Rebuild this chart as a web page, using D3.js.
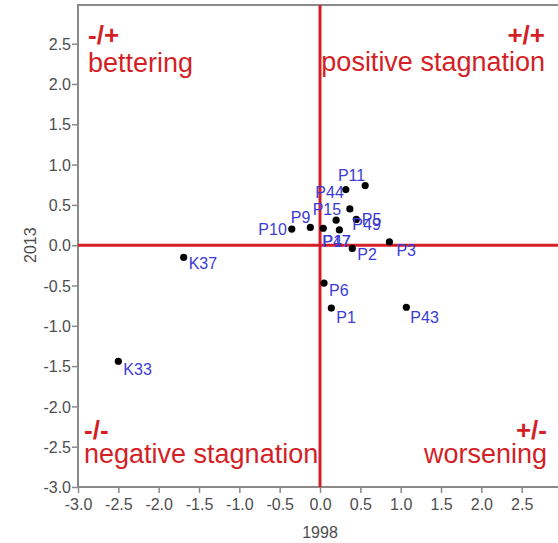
<!DOCTYPE html>
<html><head><meta charset="utf-8">
<script src="https://cdn.jsdelivr.net/npm/d3@7"></script>
<style>
html,body{margin:0;padding:0;background:#fff;}
svg{display:block;font-family:"Liberation Sans",Arial,sans-serif;}
</style></head>
<body>
<svg id="chart" width="558" height="543"></svg>
<script>
const names = ["K33","K37","P10","P9","P17","P15","P47","P44","P11","P5","P49","P2","P3","P6","P1","P43"];
const x1998 = [-2.50,-1.69,-0.35,-0.12,0.04,0.20,0.24,0.32,0.56,0.37,0.45,0.40,0.86,0.05,0.14,1.07];
const y2013 = [-1.44,-0.15,0.20,0.22,0.21,0.31,0.19,0.69,0.74,0.45,0.32,-0.04,0.04,-0.47,-0.78,-0.77];
const xTicks = [-3.0,-2.5,-2.0,-1.5,-1.0,-0.5,0.0,0.5,1.0,1.5,2.0,2.5];
const yTicks = [-3.0,-2.5,-2.0,-1.5,-1.0,-0.5,0.0,0.5,1.0,1.5,2.0,2.5];
const quadrantSigns = ["-/+","+/+","-/-","+/-"];
const quadrantNames = ["bettering","positive stagnation","negative stagnation","worsening"];
// label placement (pixel offsets from point, anchor)
const labelOffsets = {
  K33:[5,14,"start"], K37:[5,12,"start"], P10:[-5,6,"end"], P9:[0,-4,"end"],
  P17:[-1,19,"start"], P15:[5,-5,"end"], P47:[-17,17,"start"], P44:[-2,8,"end"],
  P11:[0,-5,"end"], P5:[12,16,"start"], P49:[-4,11,"start"], P2:[5,12,"start"],
  P3:[7,14,"start"], P6:[5,13,"start"], P1:[5,15,"start"], P43:[4,16,"start"]
};

const svg = d3.select("#chart");
const x = d3.scaleLinear().domain([-3, 2.95]).range([78, 558]);
const y = d3.scaleLinear().domain([-3, 2.98]).range([487, 5]);
const gray = "#8a8a8a", red = "#d41f26", textGray = "#4d4d4d";

// frame
svg.append("path").attr("d", `M${x(2.95)},${y(2.98)}H${x(-3)}V${y(-3)}H${x(2.95)}`)
  .attr("fill","none").attr("stroke",gray).attr("stroke-width",2);

// axes
const fmt = d => d3.format(".1f")(d).replace("\u2212","-");
const xAxis = svg.append("g").attr("transform",`translate(0,${y(-3)})`)
  .call(d3.axisBottom(x).tickValues(xTicks).tickFormat(fmt).tickSize(6).tickSizeOuter(0));
const yAxis = svg.append("g").attr("transform",`translate(${x(-3)},0)`)
  .call(d3.axisLeft(y).tickValues(yTicks).tickFormat(fmt).tickSize(6).tickSizeOuter(0));
[xAxis,yAxis].forEach(g=>{
  g.select(".domain").remove();
  g.selectAll(".tick line").attr("stroke",gray).attr("stroke-width",1.5);
  g.selectAll(".tick text").attr("fill",textGray).style("font-size","16px").style("font-family","Liberation Sans, Arial, sans-serif");
});
xAxis.selectAll(".tick text").attr("dy","0.9em");
yAxis.selectAll(".tick text").attr("x",-7).attr("dy","0.35em");

// axis titles
svg.append("text").attr("x", x(0)).attr("y", 538).attr("text-anchor","middle")
  .attr("fill",textGray).style("font-size","16px").text("1998");
svg.append("text").attr("transform",`translate(36,${y(0)}) rotate(-90)`).attr("text-anchor","middle")
  .attr("fill",textGray).style("font-size","16px").text("2013");

// red quadrant lines
svg.append("line").attr("x1",x(-3)).attr("x2",x(2.95)).attr("y1",y(0)).attr("y2",y(0))
  .attr("stroke",red).attr("stroke-width",3);
svg.append("line").attr("x1",x(0)).attr("x2",x(0)).attr("y1",y(2.98)).attr("y2",y(-3))
  .attr("stroke",red).attr("stroke-width",3);

// quadrant annotations
const qpos = [
  {x:88, anchor:"start", sy:44, ny:72},
  {x:545, anchor:"end", sy:44, ny:71},
  {x:84, anchor:"start", sy:439, ny:463},
  {x:547, anchor:"end", sy:439, ny:463}
];
quadrantSigns.forEach((s,i)=>{
  const p = qpos[i];
  svg.append("text").attr("x",p.x).attr("y",p.sy).attr("text-anchor",p.anchor)
    .attr("fill",red).style("font-size","26px").style("font-weight","bold").text(s);
  svg.append("text").attr("x",p.x).attr("y",p.ny).attr("text-anchor",p.anchor)
    .attr("fill",red).style("font-size","27px").text(quadrantNames[i]);
});

// points
const pts = names.map((n,i)=>({name:n, x:x1998[i], y:y2013[i]}));
svg.append("g").selectAll("circle").data(pts).join("circle")
  .attr("cx",d=>x(d.x)).attr("cy",d=>y(d.y)).attr("r",3.6).attr("fill","#000");
svg.append("g").selectAll("text").data(pts).join("text")
  .attr("x",d=>x(d.x)+labelOffsets[d.name][0])
  .attr("y",d=>y(d.y)+labelOffsets[d.name][1])
  .attr("text-anchor",d=>labelOffsets[d.name][2])
  .attr("fill","#3b3bd6").style("font-size","16px").text(d=>d.name);
</script>
</body></html>
